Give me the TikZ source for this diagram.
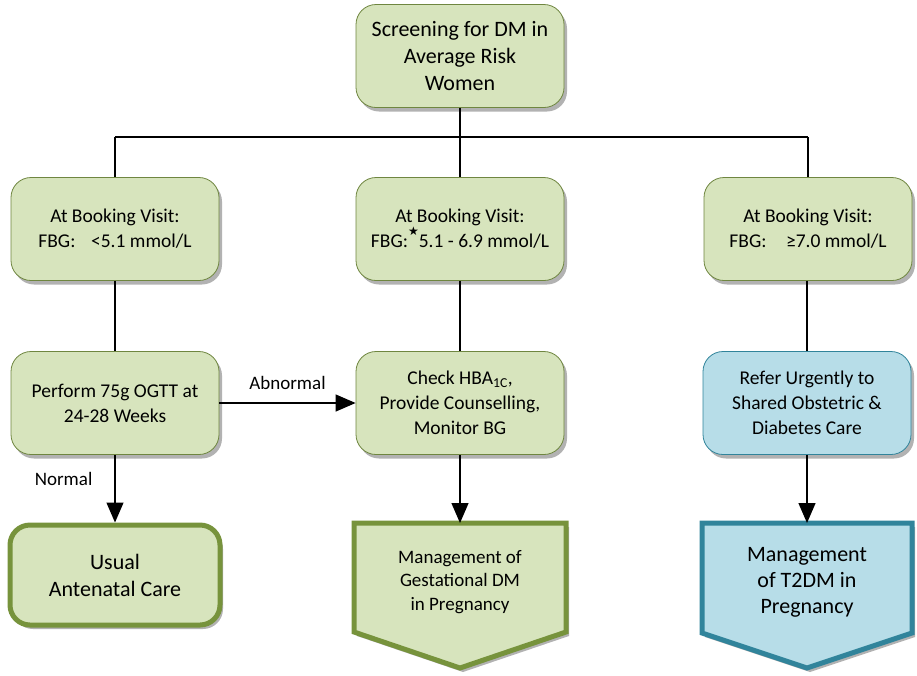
\documentclass[tikz,border=0pt]{standalone}
\usepackage{fontspec}
\setmainfont{Carlito}
\newfontfamily\symfont{DejaVu Sans}
\usetikzlibrary{arrows.meta,shadows}
\definecolor{gfill}{HTML}{D7E4BD}
\definecolor{gline}{HTML}{6F8640}
\definecolor{gthick}{HTML}{77933C}
\definecolor{bfill}{HTML}{B7DDE8}
\definecolor{bline}{HTML}{31849B}
\begin{document}
\begin{tikzpicture}[x=1pt,y=-1pt,
  boxshadow/.style={drop shadow={shadow xshift=3pt,shadow yshift=-4pt,opacity=0.3,fill=black}},
  box/.style={draw=gline,fill=gfill,line width=0.8pt,rounded corners=20pt,
    minimum width=208pt,minimum height=103pt,align=center,inner sep=0pt,
    font=\fontsize{19.5}{25}\selectfont,boxshadow},
  bluebox/.style={box,draw=bline,fill=bfill},
  endbox/.style={box,draw=gthick,line width=5pt,minimum width=210pt,minimum height=100pt,
    font=\fontsize{22}{27}\selectfont},
  endshape/.style={line width=5pt,line join=miter,boxshadow},
  endtext/.style={align=center,inner sep=0pt},
  conn/.style={line width=1.3pt,black},
  arr/.style={conn,-{Triangle[length=20pt,width=17pt]}},
  lbl/.style={font=\fontsize{19}{23}\selectfont,inner sep=0pt}]
\useasboundingbox (0,0) rectangle (917,675);

% boxes
\node[box,font=\fontsize{22}{27}\selectfont] (top) at (460,56) {Screening for DM in\\Average Risk\\Women};
\node[box] (l2) at (115,229) {At Booking Visit:\\FBG:\hspace{0.8em}<5.1 mmol/L};
\node[box] (m2) at (460,229) {At Booking Visit:\\FBG:\raisebox{0.62em}{\symfont\fontsize{12}{12}\selectfont ★}5.1 - 6.9 mmol/L};
\node[box] (r2) at (808,229) {At Booking Visit:\\FBG:\hspace{1.0em}≥7.0 mmol/L};
\node[box] (l3) at (115,403) {Perform 75g OGTT at\\24-28 Weeks};
\node[box] (m3) at (460,403) {Check HBA\textsubscript{1C},\\Provide Counselling,\\Monitor BG};
\node[bluebox] (r3) at (807,403) {Refer Urgently to\\Shared Obstetric \&\\Diabetes Care};
\node[endbox] (usual) at (115,575) {Usual\\Antenatal Care};

% pentagon end shapes
\draw[endshape,draw=gthick,fill=gfill] (354,523) -- (566,523) -- (566,632) -- (460,668) -- (354,632) -- cycle;
\draw[endshape,draw=bline,fill=bfill] (702,523) -- (912,523) -- (912,633) -- (807,668) -- (702,633) -- cycle;
\coordinate (gdmtop) at (460,523);
\coordinate (t2top) at (807,523);
\node[endtext,font=\fontsize{19}{23.5}\selectfont] (gdm) at (460,582) {Management of\\Gestational DM\\in Pregnancy};
\node[endtext,font=\fontsize{22}{26}\selectfont] (t2dm) at (807,582) {Management\\of T2DM in\\Pregnancy};

% junctions
\coordinate (j) at (460,137);
\coordinate (jl) at (115,137);
\coordinate (jr) at (808,137);

% connectors
\draw[conn] (top.south) -- (j);
\draw[conn] (jl) -- (jr);
\draw[conn] (jl) -- (l2.north);
\draw[conn] (j) -- (m2.north);
\draw[conn] (jr) -- (r2.north);
\draw[conn] (l2.south) -- (l3.north);
\draw[conn] (m2.south) -- (m3.north);
\draw[conn] (r2.south -| r3.north) -- (r3.north);
\draw[arr] (l3.east) -- node[lbl,above=13pt] (abn) {Abnormal} (m3.west);
\draw[arr] (l3.south) -- node[lbl,left=22pt,pos=0.35] (nor) {Normal} (usual.north);
\draw[arr] (m3.south) -- (gdmtop);
\draw[arr] (r3.south) -- (t2top);
\end{tikzpicture}
\end{document}
